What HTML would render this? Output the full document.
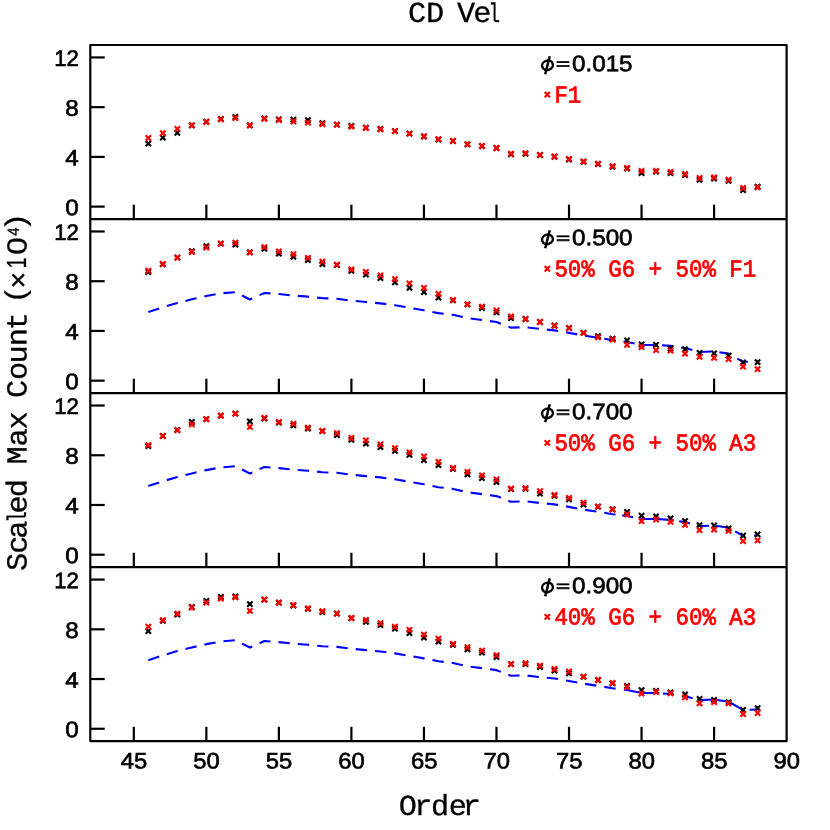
<!DOCTYPE html>
<html><head><meta charset="utf-8"><title>CD Vel</title>
<style>html,body{margin:0;padding:0;background:#fff;}svg{display:block;filter:opacity(1);}text{font-family:"Liberation Sans",sans-serif;text-rendering:geometricPrecision;}.m{font-family:"Liberation Mono",monospace;}.mb{font-family:"Liberation Mono",monospace;font-weight:bold;}.s{font-family:"Liberation Sans",sans-serif;}.sf{font-family:"Liberation Serif",serif;}</style></head><body>
<svg width="830" height="830" viewBox="0 0 830 830">
<rect x="0" y="0" width="830" height="830" fill="#ffffff"/>
<defs>
<path id="x" d="M-2.65 -2.65 L2.65 2.65 M-2.65 2.65 L2.65 -2.65" fill="none" stroke-width="2.15" stroke-linecap="butt"/>
</defs>
<g stroke="#000" stroke-width="2.2" fill="none" stroke-linecap="butt" stroke-linejoin="round">
<rect x="90.30" y="45.00" width="696.30" height="696.20"/>
<line x1="90.30" y1="219.05" x2="786.60" y2="219.05"/>
<line x1="90.30" y1="393.10" x2="786.60" y2="393.10"/>
<line x1="90.30" y1="567.15" x2="786.60" y2="567.15"/>
<line x1="90.30" y1="206.62" x2="104.70" y2="206.62"/>
<line x1="90.30" y1="156.89" x2="104.70" y2="156.89"/>
<line x1="90.30" y1="107.16" x2="104.70" y2="107.16"/>
<line x1="90.30" y1="57.43" x2="104.70" y2="57.43"/>
<line x1="133.82" y1="219.05" x2="133.82" y2="204.65"/>
<line x1="206.35" y1="219.05" x2="206.35" y2="204.65"/>
<line x1="278.88" y1="219.05" x2="278.88" y2="204.65"/>
<line x1="351.41" y1="219.05" x2="351.41" y2="204.65"/>
<line x1="423.94" y1="219.05" x2="423.94" y2="204.65"/>
<line x1="496.48" y1="219.05" x2="496.48" y2="204.65"/>
<line x1="569.01" y1="219.05" x2="569.01" y2="204.65"/>
<line x1="641.54" y1="219.05" x2="641.54" y2="204.65"/>
<line x1="714.07" y1="219.05" x2="714.07" y2="204.65"/>
<line x1="90.30" y1="380.67" x2="104.70" y2="380.67"/>
<line x1="90.30" y1="330.94" x2="104.70" y2="330.94"/>
<line x1="90.30" y1="281.21" x2="104.70" y2="281.21"/>
<line x1="90.30" y1="231.48" x2="104.70" y2="231.48"/>
<line x1="133.82" y1="393.10" x2="133.82" y2="378.70"/>
<line x1="206.35" y1="393.10" x2="206.35" y2="378.70"/>
<line x1="278.88" y1="393.10" x2="278.88" y2="378.70"/>
<line x1="351.41" y1="393.10" x2="351.41" y2="378.70"/>
<line x1="423.94" y1="393.10" x2="423.94" y2="378.70"/>
<line x1="496.48" y1="393.10" x2="496.48" y2="378.70"/>
<line x1="569.01" y1="393.10" x2="569.01" y2="378.70"/>
<line x1="641.54" y1="393.10" x2="641.54" y2="378.70"/>
<line x1="714.07" y1="393.10" x2="714.07" y2="378.70"/>
<line x1="90.30" y1="554.72" x2="104.70" y2="554.72"/>
<line x1="90.30" y1="504.99" x2="104.70" y2="504.99"/>
<line x1="90.30" y1="455.26" x2="104.70" y2="455.26"/>
<line x1="90.30" y1="405.53" x2="104.70" y2="405.53"/>
<line x1="133.82" y1="567.15" x2="133.82" y2="552.75"/>
<line x1="206.35" y1="567.15" x2="206.35" y2="552.75"/>
<line x1="278.88" y1="567.15" x2="278.88" y2="552.75"/>
<line x1="351.41" y1="567.15" x2="351.41" y2="552.75"/>
<line x1="423.94" y1="567.15" x2="423.94" y2="552.75"/>
<line x1="496.48" y1="567.15" x2="496.48" y2="552.75"/>
<line x1="569.01" y1="567.15" x2="569.01" y2="552.75"/>
<line x1="641.54" y1="567.15" x2="641.54" y2="552.75"/>
<line x1="714.07" y1="567.15" x2="714.07" y2="552.75"/>
<line x1="90.30" y1="728.77" x2="104.70" y2="728.77"/>
<line x1="90.30" y1="679.04" x2="104.70" y2="679.04"/>
<line x1="90.30" y1="629.31" x2="104.70" y2="629.31"/>
<line x1="90.30" y1="579.58" x2="104.70" y2="579.58"/>
<line x1="133.82" y1="741.20" x2="133.82" y2="726.80"/>
<line x1="206.35" y1="741.20" x2="206.35" y2="726.80"/>
<line x1="278.88" y1="741.20" x2="278.88" y2="726.80"/>
<line x1="351.41" y1="741.20" x2="351.41" y2="726.80"/>
<line x1="423.94" y1="741.20" x2="423.94" y2="726.80"/>
<line x1="496.48" y1="741.20" x2="496.48" y2="726.80"/>
<line x1="569.01" y1="741.20" x2="569.01" y2="726.80"/>
<line x1="641.54" y1="741.20" x2="641.54" y2="726.80"/>
<line x1="714.07" y1="741.20" x2="714.07" y2="726.80"/>
</g>
<g class="s" font-size="22.60" fill="#000" stroke="#000" stroke-width="0.65">
<text transform="translate(78.80 215.22) rotate(0.03) scale(1.070 1)" text-anchor="end">0</text>
<text transform="translate(78.80 165.49) rotate(0.03) scale(1.070 1)" text-anchor="end">4</text>
<text transform="translate(78.80 115.76) rotate(0.03) scale(1.070 1)" text-anchor="end">8</text>
<text transform="translate(78.80 66.03) rotate(0.03) scale(0.979 1)" text-anchor="end">12</text>
<text transform="translate(78.80 389.27) rotate(0.03) scale(1.070 1)" text-anchor="end">0</text>
<text transform="translate(78.80 339.54) rotate(0.03) scale(1.070 1)" text-anchor="end">4</text>
<text transform="translate(78.80 289.81) rotate(0.03) scale(1.070 1)" text-anchor="end">8</text>
<text transform="translate(78.80 240.08) rotate(0.03) scale(0.979 1)" text-anchor="end">12</text>
<text transform="translate(78.80 563.32) rotate(0.03) scale(1.070 1)" text-anchor="end">0</text>
<text transform="translate(78.80 513.59) rotate(0.03) scale(1.070 1)" text-anchor="end">4</text>
<text transform="translate(78.80 463.86) rotate(0.03) scale(1.070 1)" text-anchor="end">8</text>
<text transform="translate(78.80 414.13) rotate(0.03) scale(0.979 1)" text-anchor="end">12</text>
<text transform="translate(78.80 737.37) rotate(0.03) scale(1.070 1)" text-anchor="end">0</text>
<text transform="translate(78.80 687.64) rotate(0.03) scale(1.070 1)" text-anchor="end">4</text>
<text transform="translate(78.80 637.91) rotate(0.03) scale(1.070 1)" text-anchor="end">8</text>
<text transform="translate(78.80 588.18) rotate(0.03) scale(0.979 1)" text-anchor="end">12</text>
<text transform="translate(134.02 768.60) rotate(0.03) scale(1.054 1)" text-anchor="middle">45</text>
<text transform="translate(206.55 768.60) rotate(0.03) scale(1.054 1)" text-anchor="middle">50</text>
<text transform="translate(279.08 768.60) rotate(0.03) scale(1.054 1)" text-anchor="middle">55</text>
<text transform="translate(351.61 768.60) rotate(0.03) scale(1.054 1)" text-anchor="middle">60</text>
<text transform="translate(424.14 768.60) rotate(0.03) scale(1.054 1)" text-anchor="middle">65</text>
<text transform="translate(496.68 768.60) rotate(0.03) scale(1.054 1)" text-anchor="middle">70</text>
<text transform="translate(569.21 768.60) rotate(0.03) scale(1.054 1)" text-anchor="middle">75</text>
<text transform="translate(641.74 768.60) rotate(0.03) scale(1.054 1)" text-anchor="middle">80</text>
<text transform="translate(714.27 768.60) rotate(0.03) scale(1.054 1)" text-anchor="middle">85</text>
<text transform="translate(786.80 768.60) rotate(0.03) scale(1.054 1)" text-anchor="middle">90</text>
</g>
<g stroke="#000">
<use href="#x" x="148.32" y="143.70"/>
<use href="#x" x="162.83" y="137.60"/>
<use href="#x" x="177.34" y="132.80"/>
<use href="#x" x="191.84" y="125.30"/>
<use href="#x" x="206.35" y="121.60"/>
<use href="#x" x="220.86" y="118.90"/>
<use href="#x" x="235.36" y="117.00"/>
<use href="#x" x="249.87" y="125.40"/>
<use href="#x" x="264.38" y="118.30"/>
<use href="#x" x="278.88" y="119.30"/>
<use href="#x" x="293.39" y="119.60"/>
<use href="#x" x="307.89" y="120.20"/>
<use href="#x" x="322.40" y="123.10"/>
<use href="#x" x="336.91" y="124.70"/>
<use href="#x" x="351.41" y="125.80"/>
<use href="#x" x="365.92" y="127.60"/>
<use href="#x" x="380.43" y="128.90"/>
<use href="#x" x="394.93" y="131.20"/>
<use href="#x" x="409.44" y="133.70"/>
<use href="#x" x="423.94" y="136.60"/>
<use href="#x" x="438.45" y="139.50"/>
<use href="#x" x="452.96" y="141.00"/>
<use href="#x" x="467.46" y="144.30"/>
<use href="#x" x="481.97" y="146.20"/>
<use href="#x" x="496.48" y="148.20"/>
<use href="#x" x="510.98" y="154.30"/>
<use href="#x" x="525.49" y="153.80"/>
<use href="#x" x="539.99" y="155.10"/>
<use href="#x" x="554.50" y="156.90"/>
<use href="#x" x="569.01" y="159.50"/>
<use href="#x" x="583.51" y="161.90"/>
<use href="#x" x="598.02" y="164.10"/>
<use href="#x" x="612.52" y="166.80"/>
<use href="#x" x="627.03" y="168.60"/>
<use href="#x" x="641.54" y="173.00"/>
<use href="#x" x="656.04" y="171.60"/>
<use href="#x" x="670.55" y="173.20"/>
<use href="#x" x="685.06" y="175.10"/>
<use href="#x" x="699.56" y="179.90"/>
<use href="#x" x="714.07" y="178.60"/>
<use href="#x" x="728.58" y="180.90"/>
<use href="#x" x="743.08" y="190.20"/>
<use href="#x" x="757.59" y="186.70"/>
</g>
<g stroke="#ff0000">
<use href="#x" x="148.32" y="138.00"/>
<use href="#x" x="162.83" y="133.20"/>
<use href="#x" x="177.34" y="128.90"/>
<use href="#x" x="191.84" y="125.30"/>
<use href="#x" x="206.35" y="122.00"/>
<use href="#x" x="220.86" y="119.30"/>
<use href="#x" x="235.36" y="118.10"/>
<use href="#x" x="249.87" y="125.40"/>
<use href="#x" x="264.38" y="118.90"/>
<use href="#x" x="278.88" y="120.00"/>
<use href="#x" x="293.39" y="121.50"/>
<use href="#x" x="307.89" y="122.60"/>
<use href="#x" x="322.40" y="124.10"/>
<use href="#x" x="336.91" y="124.70"/>
<use href="#x" x="351.41" y="126.60"/>
<use href="#x" x="365.92" y="128.00"/>
<use href="#x" x="380.43" y="129.30"/>
<use href="#x" x="394.93" y="131.20"/>
<use href="#x" x="409.44" y="133.70"/>
<use href="#x" x="423.94" y="136.20"/>
<use href="#x" x="438.45" y="139.10"/>
<use href="#x" x="452.96" y="140.80"/>
<use href="#x" x="467.46" y="144.10"/>
<use href="#x" x="481.97" y="146.00"/>
<use href="#x" x="496.48" y="148.00"/>
<use href="#x" x="510.98" y="153.60"/>
<use href="#x" x="525.49" y="153.20"/>
<use href="#x" x="539.99" y="154.90"/>
<use href="#x" x="554.50" y="156.30"/>
<use href="#x" x="569.01" y="158.80"/>
<use href="#x" x="583.51" y="161.50"/>
<use href="#x" x="598.02" y="163.70"/>
<use href="#x" x="612.52" y="166.10"/>
<use href="#x" x="627.03" y="167.90"/>
<use href="#x" x="641.54" y="170.90"/>
<use href="#x" x="656.04" y="170.90"/>
<use href="#x" x="670.55" y="171.80"/>
<use href="#x" x="685.06" y="174.00"/>
<use href="#x" x="699.56" y="178.00"/>
<use href="#x" x="714.07" y="177.40"/>
<use href="#x" x="728.58" y="179.60"/>
<use href="#x" x="743.08" y="187.80"/>
<use href="#x" x="757.59" y="187.30"/>
</g>
<path d="M148.32 312.05 L162.83 307.25 L177.34 302.95 L191.84 299.35 L206.35 296.05 L220.86 293.35 L235.36 292.15 L249.87 299.45 L264.38 292.95 L278.88 294.05 L293.39 295.55 L307.89 296.65 L322.40 298.15 L336.91 298.75 L351.41 300.65 L365.92 302.05 L380.43 303.35 L394.93 305.25 L409.44 307.75 L423.94 310.25 L438.45 313.15 L452.96 314.85 L467.46 318.15 L481.97 320.05 L496.48 322.05 L510.98 327.65 L525.49 327.25 L539.99 328.95 L554.50 330.35 L569.01 332.85 L583.51 335.55 L598.02 337.75 L612.52 340.15 L627.03 341.95 L641.54 344.95 L656.04 344.95 L670.55 345.85 L685.06 348.05 L699.56 352.05 L714.07 351.45 L728.58 353.65 L743.08 361.85 L757.59 361.35" fill="none" stroke="#0000ff" stroke-width="2.10" stroke-dasharray="11.4 8" stroke-linejoin="round"/>
<g stroke="#000">
<use href="#x" x="148.32" y="272.00"/>
<use href="#x" x="162.83" y="264.30"/>
<use href="#x" x="177.34" y="257.60"/>
<use href="#x" x="191.84" y="251.20"/>
<use href="#x" x="206.35" y="246.20"/>
<use href="#x" x="220.86" y="243.70"/>
<use href="#x" x="235.36" y="244.60"/>
<use href="#x" x="249.87" y="252.30"/>
<use href="#x" x="264.38" y="248.90"/>
<use href="#x" x="278.88" y="253.70"/>
<use href="#x" x="293.39" y="256.80"/>
<use href="#x" x="307.89" y="260.20"/>
<use href="#x" x="322.40" y="264.10"/>
<use href="#x" x="336.91" y="265.10"/>
<use href="#x" x="351.41" y="270.80"/>
<use href="#x" x="365.92" y="274.70"/>
<use href="#x" x="380.43" y="278.00"/>
<use href="#x" x="394.93" y="282.40"/>
<use href="#x" x="409.44" y="287.80"/>
<use href="#x" x="423.94" y="292.00"/>
<use href="#x" x="438.45" y="297.50"/>
<use href="#x" x="452.96" y="300.30"/>
<use href="#x" x="467.46" y="304.30"/>
<use href="#x" x="481.97" y="308.00"/>
<use href="#x" x="496.48" y="312.40"/>
<use href="#x" x="510.98" y="318.20"/>
<use href="#x" x="525.49" y="319.20"/>
<use href="#x" x="539.99" y="322.00"/>
<use href="#x" x="554.50" y="325.50"/>
<use href="#x" x="569.01" y="327.80"/>
<use href="#x" x="583.51" y="332.80"/>
<use href="#x" x="598.02" y="336.10"/>
<use href="#x" x="612.52" y="338.60"/>
<use href="#x" x="627.03" y="340.50"/>
<use href="#x" x="641.54" y="344.40"/>
<use href="#x" x="656.04" y="344.80"/>
<use href="#x" x="670.55" y="348.50"/>
<use href="#x" x="685.06" y="349.30"/>
<use href="#x" x="699.56" y="352.90"/>
<use href="#x" x="714.07" y="353.40"/>
<use href="#x" x="728.58" y="355.70"/>
<use href="#x" x="743.08" y="362.30"/>
<use href="#x" x="757.59" y="362.10"/>
</g>
<g stroke="#ff0000">
<use href="#x" x="148.32" y="270.70"/>
<use href="#x" x="162.83" y="263.90"/>
<use href="#x" x="177.34" y="257.60"/>
<use href="#x" x="191.84" y="252.00"/>
<use href="#x" x="206.35" y="247.50"/>
<use href="#x" x="220.86" y="243.70"/>
<use href="#x" x="235.36" y="242.70"/>
<use href="#x" x="249.87" y="252.30"/>
<use href="#x" x="264.38" y="247.10"/>
<use href="#x" x="278.88" y="251.40"/>
<use href="#x" x="293.39" y="254.20"/>
<use href="#x" x="307.89" y="257.90"/>
<use href="#x" x="322.40" y="261.60"/>
<use href="#x" x="336.91" y="264.70"/>
<use href="#x" x="351.41" y="269.30"/>
<use href="#x" x="365.92" y="271.80"/>
<use href="#x" x="380.43" y="275.30"/>
<use href="#x" x="394.93" y="279.10"/>
<use href="#x" x="409.44" y="283.40"/>
<use href="#x" x="423.94" y="287.80"/>
<use href="#x" x="438.45" y="294.00"/>
<use href="#x" x="452.96" y="299.90"/>
<use href="#x" x="467.46" y="304.30"/>
<use href="#x" x="481.97" y="306.60"/>
<use href="#x" x="496.48" y="310.50"/>
<use href="#x" x="510.98" y="316.30"/>
<use href="#x" x="525.49" y="318.80"/>
<use href="#x" x="539.99" y="322.00"/>
<use href="#x" x="554.50" y="325.90"/>
<use href="#x" x="569.01" y="328.20"/>
<use href="#x" x="583.51" y="332.80"/>
<use href="#x" x="598.02" y="337.30"/>
<use href="#x" x="612.52" y="339.70"/>
<use href="#x" x="627.03" y="344.80"/>
<use href="#x" x="641.54" y="347.00"/>
<use href="#x" x="656.04" y="350.20"/>
<use href="#x" x="670.55" y="350.70"/>
<use href="#x" x="685.06" y="353.70"/>
<use href="#x" x="699.56" y="356.80"/>
<use href="#x" x="714.07" y="357.90"/>
<use href="#x" x="728.58" y="359.20"/>
<use href="#x" x="743.08" y="366.70"/>
<use href="#x" x="757.59" y="369.20"/>
</g>
<clipPath id="c3"><rect x="0" y="0" width="619.00" height="830"/></clipPath>
<path d="M148.32 486.10 L162.83 481.30 L177.34 477.00 L191.84 473.40 L206.35 470.10 L220.86 467.40 L235.36 466.20 L249.87 473.50 L264.38 467.00 L278.88 468.10 L293.39 469.60 L307.89 470.70 L322.40 472.20 L336.91 472.80 L351.41 474.70 L365.92 476.10 L380.43 477.40 L394.93 479.30 L409.44 481.80 L423.94 484.30 L438.45 487.20 L452.96 488.90 L467.46 492.20 L481.97 494.10 L496.48 496.10 L510.98 501.70 L525.49 501.30 L539.99 503.00 L554.50 504.40 L569.01 506.90 L583.51 509.60 L598.02 511.80 L612.52 514.20 L627.03 516.00 L641.54 519.00 L656.04 519.00 L670.55 519.90 L685.06 522.10 L699.56 526.10 L714.07 525.50 L728.58 527.70 L743.08 535.90 L757.59 535.40" fill="none" stroke="#0000ff" stroke-width="2.10" stroke-dasharray="11.4 8" stroke-linejoin="round" clip-path="url(#c3)"/>
<path d="M622.20 515.40 L627.03 516.00 L633.10 517.26 M640.30 518.74 L641.54 519.00 L656.04 519.00 L670.55 519.90 L673.70 520.38 M679.20 521.21 L685.06 522.10 L690.00 523.46 M697.20 525.45 L699.56 526.10 L709.00 525.71 M716.20 525.82 L728.58 527.70 L730.70 528.90 M735.20 531.44 L743.08 535.90 L745.10 535.83 M754.20 535.52 L757.59 535.40" fill="none" stroke="#0000ff" stroke-width="2.10" stroke-linejoin="round"/>
<g stroke="#000">
<use href="#x" x="148.32" y="446.10"/>
<use href="#x" x="162.83" y="435.80"/>
<use href="#x" x="177.34" y="430.10"/>
<use href="#x" x="191.84" y="422.00"/>
<use href="#x" x="206.35" y="419.10"/>
<use href="#x" x="220.86" y="415.60"/>
<use href="#x" x="235.36" y="413.70"/>
<use href="#x" x="249.87" y="421.40"/>
<use href="#x" x="264.38" y="418.50"/>
<use href="#x" x="278.88" y="422.70"/>
<use href="#x" x="293.39" y="425.30"/>
<use href="#x" x="307.89" y="428.70"/>
<use href="#x" x="322.40" y="431.20"/>
<use href="#x" x="336.91" y="435.10"/>
<use href="#x" x="351.41" y="439.90"/>
<use href="#x" x="365.92" y="443.70"/>
<use href="#x" x="380.43" y="447.20"/>
<use href="#x" x="394.93" y="450.90"/>
<use href="#x" x="409.44" y="454.90"/>
<use href="#x" x="423.94" y="460.10"/>
<use href="#x" x="438.45" y="465.20"/>
<use href="#x" x="452.96" y="468.90"/>
<use href="#x" x="467.46" y="474.30"/>
<use href="#x" x="481.97" y="478.20"/>
<use href="#x" x="496.48" y="482.00"/>
<use href="#x" x="510.98" y="489.20"/>
<use href="#x" x="525.49" y="488.80"/>
<use href="#x" x="539.99" y="493.60"/>
<use href="#x" x="554.50" y="495.90"/>
<use href="#x" x="569.01" y="499.40"/>
<use href="#x" x="583.51" y="504.70"/>
<use href="#x" x="598.02" y="506.70"/>
<use href="#x" x="612.52" y="509.20"/>
<use href="#x" x="627.03" y="512.00"/>
<use href="#x" x="641.54" y="515.60"/>
<use href="#x" x="656.04" y="516.30"/>
<use href="#x" x="670.55" y="518.30"/>
<use href="#x" x="685.06" y="521.10"/>
<use href="#x" x="699.56" y="525.20"/>
<use href="#x" x="714.07" y="525.50"/>
<use href="#x" x="728.58" y="528.40"/>
<use href="#x" x="743.08" y="535.60"/>
<use href="#x" x="757.59" y="534.40"/>
</g>
<g stroke="#ff0000">
<use href="#x" x="148.32" y="445.10"/>
<use href="#x" x="162.83" y="436.20"/>
<use href="#x" x="177.34" y="430.10"/>
<use href="#x" x="191.84" y="424.30"/>
<use href="#x" x="206.35" y="419.10"/>
<use href="#x" x="220.86" y="415.60"/>
<use href="#x" x="235.36" y="413.70"/>
<use href="#x" x="249.87" y="426.80"/>
<use href="#x" x="264.38" y="417.90"/>
<use href="#x" x="278.88" y="421.80"/>
<use href="#x" x="293.39" y="423.70"/>
<use href="#x" x="307.89" y="427.70"/>
<use href="#x" x="322.40" y="430.80"/>
<use href="#x" x="336.91" y="433.10"/>
<use href="#x" x="351.41" y="438.00"/>
<use href="#x" x="365.92" y="440.30"/>
<use href="#x" x="380.43" y="444.30"/>
<use href="#x" x="394.93" y="448.20"/>
<use href="#x" x="409.44" y="452.40"/>
<use href="#x" x="423.94" y="456.30"/>
<use href="#x" x="438.45" y="461.90"/>
<use href="#x" x="452.96" y="468.00"/>
<use href="#x" x="467.46" y="471.80"/>
<use href="#x" x="481.97" y="475.30"/>
<use href="#x" x="496.48" y="479.50"/>
<use href="#x" x="510.98" y="488.60"/>
<use href="#x" x="525.49" y="488.20"/>
<use href="#x" x="539.99" y="491.10"/>
<use href="#x" x="554.50" y="494.90"/>
<use href="#x" x="569.01" y="497.80"/>
<use href="#x" x="583.51" y="502.70"/>
<use href="#x" x="598.02" y="506.70"/>
<use href="#x" x="612.52" y="509.60"/>
<use href="#x" x="627.03" y="514.40"/>
<use href="#x" x="641.54" y="521.10"/>
<use href="#x" x="656.04" y="519.50"/>
<use href="#x" x="670.55" y="521.90"/>
<use href="#x" x="685.06" y="524.80"/>
<use href="#x" x="699.56" y="530.10"/>
<use href="#x" x="714.07" y="529.60"/>
<use href="#x" x="728.58" y="530.80"/>
<use href="#x" x="743.08" y="541.10"/>
<use href="#x" x="757.59" y="540.40"/>
</g>
<clipPath id="c4"><rect x="0" y="0" width="619.00" height="830"/></clipPath>
<path d="M148.32 660.15 L162.83 655.35 L177.34 651.05 L191.84 647.45 L206.35 644.15 L220.86 641.45 L235.36 640.25 L249.87 647.55 L264.38 641.05 L278.88 642.15 L293.39 643.65 L307.89 644.75 L322.40 646.25 L336.91 646.85 L351.41 648.75 L365.92 650.15 L380.43 651.45 L394.93 653.35 L409.44 655.85 L423.94 658.35 L438.45 661.25 L452.96 662.95 L467.46 666.25 L481.97 668.15 L496.48 670.15 L510.98 675.75 L525.49 675.35 L539.99 677.05 L554.50 678.45 L569.01 680.95 L583.51 683.65 L598.02 685.85 L612.52 688.25 L627.03 690.05 L641.54 693.05 L656.04 693.05 L670.55 693.95 L685.06 696.15 L699.56 700.15 L714.07 699.55 L728.58 701.75 L743.08 709.95 L757.59 709.45" fill="none" stroke="#0000ff" stroke-width="2.10" stroke-dasharray="11.4 8" stroke-linejoin="round" clip-path="url(#c4)"/>
<path d="M624.00 689.67 L627.03 690.05 L641.54 693.05 L656.04 693.05 L659.30 693.25 M662.90 693.48 L670.55 693.95 L673.70 694.43 M681.90 695.67 L685.06 696.15 L692.70 698.26 M697.20 699.50 L699.56 700.15 L714.07 699.55 L728.58 701.75 L743.08 709.95 L743.30 709.94 M749.60 709.73 L757.59 709.45" fill="none" stroke="#0000ff" stroke-width="2.10" stroke-linejoin="round"/>
<g stroke="#000">
<use href="#x" x="148.32" y="631.10"/>
<use href="#x" x="162.83" y="620.90"/>
<use href="#x" x="177.34" y="614.70"/>
<use href="#x" x="191.84" y="607.00"/>
<use href="#x" x="206.35" y="600.80"/>
<use href="#x" x="220.86" y="597.00"/>
<use href="#x" x="235.36" y="596.40"/>
<use href="#x" x="249.87" y="604.10"/>
<use href="#x" x="264.38" y="599.70"/>
<use href="#x" x="278.88" y="602.70"/>
<use href="#x" x="293.39" y="605.50"/>
<use href="#x" x="307.89" y="608.80"/>
<use href="#x" x="322.40" y="612.20"/>
<use href="#x" x="336.91" y="613.70"/>
<use href="#x" x="351.41" y="618.20"/>
<use href="#x" x="365.92" y="621.80"/>
<use href="#x" x="380.43" y="625.10"/>
<use href="#x" x="394.93" y="628.60"/>
<use href="#x" x="409.44" y="633.00"/>
<use href="#x" x="423.94" y="637.60"/>
<use href="#x" x="438.45" y="641.60"/>
<use href="#x" x="452.96" y="644.90"/>
<use href="#x" x="467.46" y="649.30"/>
<use href="#x" x="481.97" y="652.60"/>
<use href="#x" x="496.48" y="657.00"/>
<use href="#x" x="510.98" y="664.20"/>
<use href="#x" x="525.49" y="664.20"/>
<use href="#x" x="539.99" y="667.00"/>
<use href="#x" x="554.50" y="670.50"/>
<use href="#x" x="569.01" y="673.40"/>
<use href="#x" x="583.51" y="676.90"/>
<use href="#x" x="598.02" y="680.00"/>
<use href="#x" x="612.52" y="683.30"/>
<use href="#x" x="627.03" y="686.00"/>
<use href="#x" x="641.54" y="690.10"/>
<use href="#x" x="656.04" y="690.80"/>
<use href="#x" x="670.55" y="692.50"/>
<use href="#x" x="685.06" y="694.50"/>
<use href="#x" x="699.56" y="699.00"/>
<use href="#x" x="714.07" y="699.80"/>
<use href="#x" x="728.58" y="702.20"/>
<use href="#x" x="743.08" y="709.90"/>
<use href="#x" x="757.59" y="708.20"/>
</g>
<g stroke="#ff0000">
<use href="#x" x="148.32" y="626.60"/>
<use href="#x" x="162.83" y="620.10"/>
<use href="#x" x="177.34" y="613.70"/>
<use href="#x" x="191.84" y="607.60"/>
<use href="#x" x="206.35" y="602.70"/>
<use href="#x" x="220.86" y="598.70"/>
<use href="#x" x="235.36" y="597.30"/>
<use href="#x" x="249.87" y="610.80"/>
<use href="#x" x="264.38" y="599.70"/>
<use href="#x" x="278.88" y="602.70"/>
<use href="#x" x="293.39" y="605.00"/>
<use href="#x" x="307.89" y="608.30"/>
<use href="#x" x="322.40" y="611.20"/>
<use href="#x" x="336.91" y="613.50"/>
<use href="#x" x="351.41" y="618.00"/>
<use href="#x" x="365.92" y="619.90"/>
<use href="#x" x="380.43" y="623.20"/>
<use href="#x" x="394.93" y="626.60"/>
<use href="#x" x="409.44" y="629.90"/>
<use href="#x" x="423.94" y="634.70"/>
<use href="#x" x="438.45" y="638.70"/>
<use href="#x" x="452.96" y="643.90"/>
<use href="#x" x="467.46" y="647.20"/>
<use href="#x" x="481.97" y="650.70"/>
<use href="#x" x="496.48" y="655.10"/>
<use href="#x" x="510.98" y="664.20"/>
<use href="#x" x="525.49" y="663.20"/>
<use href="#x" x="539.99" y="665.70"/>
<use href="#x" x="554.50" y="669.00"/>
<use href="#x" x="569.01" y="671.50"/>
<use href="#x" x="583.51" y="676.60"/>
<use href="#x" x="598.02" y="680.00"/>
<use href="#x" x="612.52" y="682.90"/>
<use href="#x" x="627.03" y="687.00"/>
<use href="#x" x="641.54" y="693.70"/>
<use href="#x" x="656.04" y="692.00"/>
<use href="#x" x="670.55" y="693.30"/>
<use href="#x" x="685.06" y="697.30"/>
<use href="#x" x="699.56" y="703.40"/>
<use href="#x" x="714.07" y="702.20"/>
<use href="#x" x="728.58" y="703.40"/>
<use href="#x" x="743.08" y="714.20"/>
<use href="#x" x="757.59" y="713.00"/>
</g>
<g stroke="#000" fill="none">
<ellipse cx="547.45" cy="65.30" rx="5.45" ry="4.7" stroke-width="2.4" transform="rotate(-18 547.45 65.30)"/>
<line x1="545.2" y1="74.20" x2="549.75" y2="56.20" stroke-width="2.5"/>
</g>
<text class="s" font-size="22.60" stroke="#000" stroke-width="1.05" transform="translate(556.0 69.35) rotate(0.03) scale(1.070 0.70)">=</text>
<text class="s" font-size="22.60" stroke="#000" stroke-width="0.65" transform="translate(572.05 71.20) rotate(0.03) scale(1.070 1)">0.015</text>
<use href="#x" x="547.3" y="94.70" stroke="#ff0000" transform="translate(547.3 94.70) scale(1.0) translate(-547.3 -94.70)"/>
<text class="m" font-size="22.43" fill="#ff0000" stroke="#ff0000" stroke-width="0.70" xml:space="preserve" transform="translate(554.4 102.40) rotate(0.03) scale(1.000 1.076)">F1</text>
<g stroke="#000" fill="none">
<ellipse cx="547.45" cy="239.35" rx="5.45" ry="4.7" stroke-width="2.4" transform="rotate(-18 547.45 239.35)"/>
<line x1="545.2" y1="248.25" x2="549.75" y2="230.25" stroke-width="2.5"/>
</g>
<text class="s" font-size="22.60" stroke="#000" stroke-width="1.05" transform="translate(556.0 243.40) rotate(0.03) scale(1.070 0.70)">=</text>
<text class="s" font-size="22.60" stroke="#000" stroke-width="0.65" transform="translate(572.05 245.25) rotate(0.03) scale(1.070 1)">0.500</text>
<use href="#x" x="547.3" y="268.75" stroke="#ff0000" transform="translate(547.3 268.75) scale(1.0) translate(-547.3 -268.75)"/>
<text class="m" font-size="22.43" fill="#ff0000" stroke="#ff0000" stroke-width="0.70" xml:space="preserve" transform="translate(554.4 276.45) rotate(0.03) scale(1.000 1.076)">50% G6 + 50% F1</text>
<g stroke="#000" fill="none">
<ellipse cx="547.45" cy="413.40" rx="5.45" ry="4.7" stroke-width="2.4" transform="rotate(-18 547.45 413.40)"/>
<line x1="545.2" y1="422.30" x2="549.75" y2="404.30" stroke-width="2.5"/>
</g>
<text class="s" font-size="22.60" stroke="#000" stroke-width="1.05" transform="translate(556.0 417.45) rotate(0.03) scale(1.070 0.70)">=</text>
<text class="s" font-size="22.60" stroke="#000" stroke-width="0.65" transform="translate(572.05 419.30) rotate(0.03) scale(1.070 1)">0.700</text>
<use href="#x" x="547.3" y="442.80" stroke="#ff0000" transform="translate(547.3 442.80) scale(1.0) translate(-547.3 -442.80)"/>
<text class="m" font-size="22.43" fill="#ff0000" stroke="#ff0000" stroke-width="0.70" xml:space="preserve" transform="translate(554.4 450.50) rotate(0.03) scale(1.000 1.076)">50% G6 + 50% A3</text>
<g stroke="#000" fill="none">
<ellipse cx="547.45" cy="587.45" rx="5.45" ry="4.7" stroke-width="2.4" transform="rotate(-18 547.45 587.45)"/>
<line x1="545.2" y1="596.35" x2="549.75" y2="578.35" stroke-width="2.5"/>
</g>
<text class="s" font-size="22.60" stroke="#000" stroke-width="1.05" transform="translate(556.0 591.50) rotate(0.03) scale(1.070 0.70)">=</text>
<text class="s" font-size="22.60" stroke="#000" stroke-width="0.65" transform="translate(572.05 593.35) rotate(0.03) scale(1.070 1)">0.900</text>
<use href="#x" x="547.3" y="616.85" stroke="#ff0000" transform="translate(547.3 616.85) scale(1.0) translate(-547.3 -616.85)"/>
<text class="m" font-size="22.43" fill="#ff0000" stroke="#ff0000" stroke-width="0.70" xml:space="preserve" transform="translate(554.4 624.55) rotate(0.03) scale(1.000 1.076)">40% G6 + 60% A3</text>
<g fill="#000">
<text class="m" font-size="29.10" stroke="#000" stroke-width="0.30" transform="translate(0 21.75) rotate(0.03) scale(1.040 1.000)" x="392.24 409.56" y="0">CD</text>
<text class="m" font-size="29.10" stroke="#000" stroke-width="0.30" transform="translate(0 21.75) rotate(0.03) scale(1.040 1.000)" x="439.45 455.08" y="0">Ve</text><text class="m" font-size="29.10" stroke="#000" stroke-width="0.30" transform="translate(0 21.75) rotate(0.03) scale(0.666 0.925)" x="733.64" y="0">l</text>
<text class="m" font-size="29.10" stroke="#000" stroke-width="0.30" transform="translate(0 814.85) rotate(0.03) scale(1.040 1.000)" x="383.54 398.31 414.36 431.43 444.94" y="0">Order</text>
</g>
<g fill="#000" transform="translate(26.4 571.40) rotate(-90)">
<text class="m" font-size="29.10" stroke="#000" stroke-width="0.30" transform="translate(0 0.00) rotate(0.03) scale(1.040 1.000)" x="0.46 16.98 31.47" y="0">Sca</text><text class="m" font-size="29.10" stroke="#000" stroke-width="0.30" transform="translate(0 0.00) rotate(0.03) scale(0.666 0.925)" x="73.11" y="0">l</text><text class="m" font-size="29.10" stroke="#000" stroke-width="0.30" transform="translate(0 0.00) rotate(0.03) scale(1.040 1.000)" x="55.66 71.33" y="0">ed</text>
<text class="m" font-size="29.10" stroke="#000" stroke-width="0.30" transform="translate(0 0.00) rotate(0.03) scale(1.040 1.000)" x="102.91 120.13 136.52" y="0">Max</text>
<text class="m" font-size="29.10" stroke="#000" stroke-width="0.30" transform="translate(0 0.00) rotate(0.03) scale(1.040 1.000)" x="166.71 184.02 199.84 216.42 231.95" y="0">Count</text>
<text class="s" font-size="28.50" stroke="#000" stroke-width="0.3" transform="translate(270.90 -1.30) rotate(0.03) scale(1.080 1)">(</text>
<text class="s" font-size="28.70" stroke="#000" stroke-width="0.3" transform="translate(282.80 1.30) rotate(0.03) scale(1.000 1)">×</text>
<text class="s" font-size="27.70" stroke="#000" stroke-width="0.3" transform="translate(302.90 0.00) rotate(0.03) scale(0.720 1)">1</text>
<text class="s" font-size="27.70" stroke="#000" stroke-width="0.3" transform="translate(316.70 0.00) rotate(0.03) scale(1.140 1)">0</text>
<text class="s" font-size="16.40" stroke="#000" stroke-width="0.3" transform="translate(335.70 -7.60) rotate(0.03) scale(0.910 1)">4</text>
<text class="s" font-size="28.50" stroke="#000" stroke-width="0.3" transform="translate(344.80 -1.30) rotate(0.03) scale(1.120 1)">)</text>
</g>
</svg>
</body></html>
